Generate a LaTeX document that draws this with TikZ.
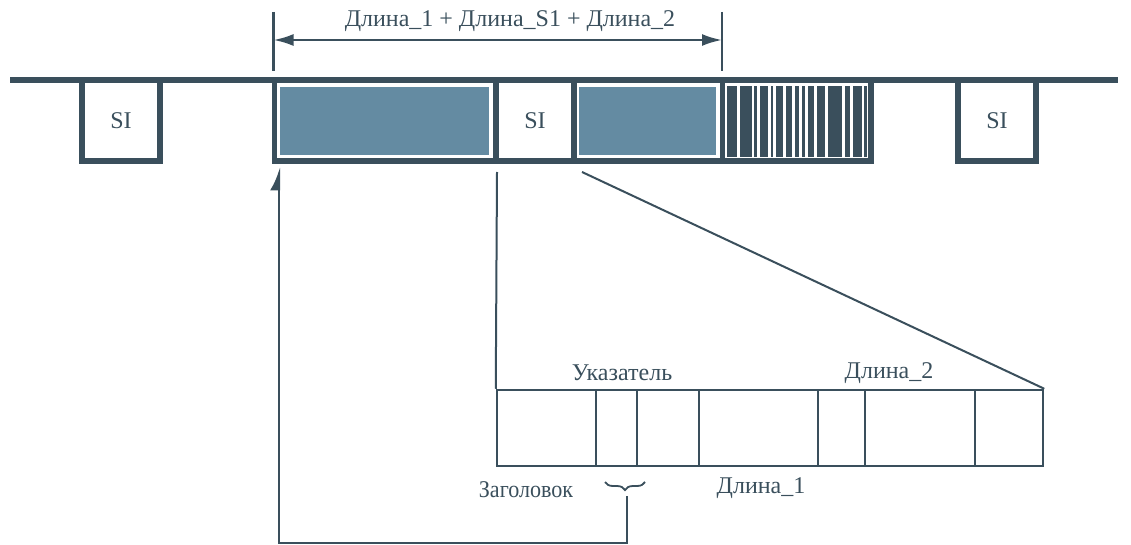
\documentclass[tikz,border=0pt]{standalone}
\usepackage{fontspec}
\setmainfont{Liberation Serif}
\usetikzlibrary{arrows.meta,decorations.pathreplacing}
\definecolor{dk}{RGB}{58,79,92}
\definecolor{bl}{RGB}{100,139,162}
\begin{document}
\begin{tikzpicture}[x=1pt,y=-1pt,
  heavy/.style={draw=dk,line width=5.5pt},
  sibox/.style={heavy,rectangle,minimum width=78pt,minimum height=81pt,inner sep=0pt},
  cell/.style={draw=dk,line width=2.5pt},
  conn/.style={draw=dk,line width=2pt},
  lbl/.style={text=dk,font=\fontsize{24}{28}\selectfont,inner sep=0pt},
  bar/.style={fill=dk,draw=none}]
\useasboundingbox (0,0) rectangle (1131,545);
% top line
\draw[heavy] (10,80) -- (1118,80);
% left and right SI boxes
\node[sibox] (siL) at (121,120.5) {};
\node[lbl] at (siL.center) {SI};
\node[sibox] (siR) at (997,120.5) {};
\node[lbl] at (siR.center) {SI};
% main frame
\node[heavy,rectangle,minimum width=596.5pt,minimum height=81pt,inner sep=0pt] (frame) at (572.75,120.5) {};
\fill[bl] (280,87) rectangle (489,155);
\fill[bl] (579,87) rectangle (716,155);
\draw[heavy] (496,80) -- (496,161);
\draw[heavy] (574,80) -- (574,161);
\draw[draw=dk,line width=5pt] (722.5,80) -- (722.5,161);
\node[lbl] (siM) at (535,120.5) {SI};
% barcode
\foreach \a/\b in {726.5/737,739.5/752,754/757,759.5/768,771/773,776/783,785.5/792,794.5/799,802/805,807.5/814,816.5/825,827.5/842,844.5/850,853/861.5,864/867}
  \fill[bar] (\a,86) rectangle (\b,157);
% dimension
\coordinate (dL) at (273.5,40);
\coordinate (dR) at (722,40);
\draw[draw=dk,line width=2.5pt] (273.5,12) -- (273.5,71);
\draw[draw=dk,line width=2.5pt] (722,12) -- (722,71);
\draw[draw=dk,line width=2.5pt,{Latex[length=20pt,width=12pt]}-{Latex[length=20pt,width=12pt]}] (dL) -- (dR);
\node[lbl] (dim) at (510,21) {Длина\_1 + Длина\_S1 + Длина\_2};
% bottom table
\node[cell,rectangle,minimum width=546pt,minimum height=76pt,inner sep=0pt] (tab) at (770,428) {};
\foreach \x in {596,637,699,818,865,975}
  \draw[cell] (\x,390) -- (\x,466);
\node[lbl] (uk) at (622,373) {Указатель};
\node[lbl] (d2) at (889,373) {Длина\_2};
\node[lbl,xscale=0.92] (zag) at (526,490) {Заголовок};
\node[lbl] (d1) at (761,488) {Длина\_1};
% zoom connectors
\coordinate (c1) at (497,172);
\coordinate (c2) at (582,172);
\draw[conn] (c1) -- (tab.north west);
\draw[conn] (c2) -- (tab.north east);
% brace and return arrow
\coordinate (bA) at (645,482);
\coordinate (bB) at (605,482);
\draw[draw=dk,line width=1.8pt,decorate,decoration={brace,amplitude=8pt}] (bA) -- (bB);
\coordinate (bt) at (627,496);
\coordinate (k1) at (627,543);
\coordinate (k2) at (279,543);
\coordinate (k3) at (279,167);
\draw[conn,-{Latex[left,length=20pt,width=18pt]}] (bt) -- (k1) -- (k2) -- (k3);
\end{tikzpicture}
\end{document}
